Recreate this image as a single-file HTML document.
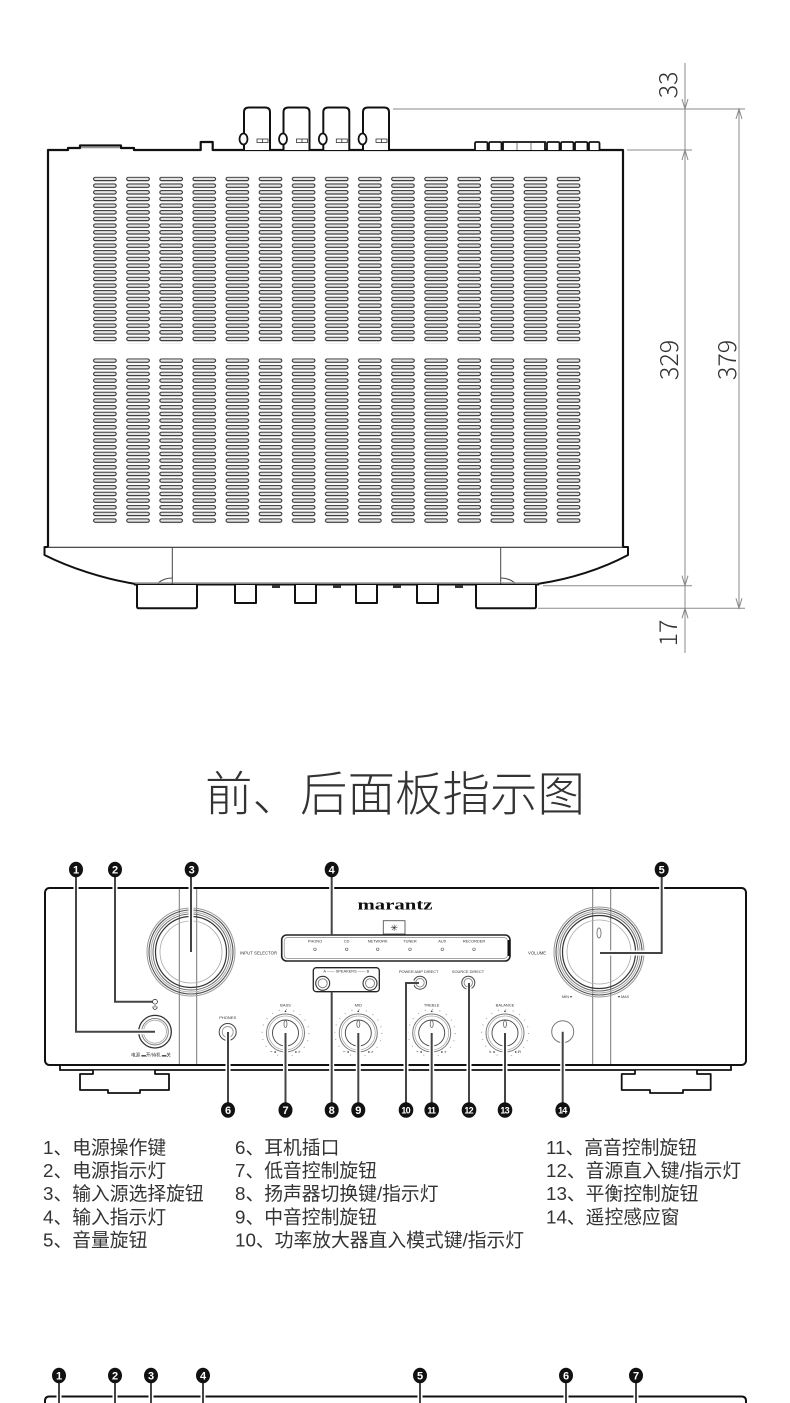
<!DOCTYPE html>
<html><head><meta charset="utf-8">
<style>
html,body{margin:0;padding:0;background:#fff;}
svg{display:block;}
.t{font-family:"Liberation Sans",sans-serif;fill:#333;}
.cn{font-family:"Liberation Sans","Noto Sans CJK SC",sans-serif;fill:#333;}
</style></head><body>
<svg width="790" height="1403" viewBox="0 0 790 1403" xmlns="http://www.w3.org/2000/svg">
<defs>
<pattern id="v1" x="93" y="176.7" width="33.12" height="6.667" patternUnits="userSpaceOnUse">
<rect x="0.6" y="0.6" width="22.6" height="3.4" rx="1.7" fill="#e6e6e6" stroke="#222" stroke-width="1"/>
</pattern>
<pattern id="v2" x="93" y="358.3" width="33.12" height="6.667" patternUnits="userSpaceOnUse">
<rect x="0.6" y="0.6" width="22.6" height="3.4" rx="1.7" fill="#e6e6e6" stroke="#222" stroke-width="1"/>
</pattern>
</defs>

<!-- ============ TOP VIEW ============ -->
<g fill="none" stroke="#111" stroke-width="2.2" stroke-linejoin="round">
<path d="M48,547 L48,150 L68,150 L68,148 L80,148 L80,145.5 L121,145.5 L121,148 L134,148 L134,150 L200.7,150 L200.7,142 L212.7,142 L212.7,150 L623,150 L623,547"/>
</g>
<rect x="81" y="146.3" width="39" height="2" fill="#999"/>
<g fill="#fff" stroke="#111" stroke-width="1.8">
<path d="M475,150 V143.5 Q475,142 476.5,142 H486 Q487.5,142 487.5,143.5 V150"/>
<path d="M489,150 V143.5 Q489,142 490.5,142 H500 Q501.5,142 501.5,143.5 V150"/>
<path d="M503,150 V142 H545 V150"/>
<path d="M547,150 V143.5 Q547,142 548.5,142 H558 Q559.5,142 559.5,143.5 V150"/>
<path d="M561,150 V143.5 Q561,142 562.5,142 H572 Q573.5,142 573.5,143.5 V150"/>
<path d="M575,150 V143.5 Q575,142 576.5,142 H586 Q587.5,142 587.5,143.5 V150"/>
<path d="M589,150 V143.5 Q589,142 590.5,142 H598 Q599.5,142 599.5,143.5 V150"/>
</g>
<g stroke="#555" stroke-width="0.8"><line x1="517" y1="142.5" x2="517" y2="150"/><line x1="531" y1="142.5" x2="531" y2="150"/></g>
<g>
<g transform="translate(244,0)">
<path d="M0,150 V112 Q0,107.5 5,107.5 H21 Q26,107.5 26,112 V150" fill="#fff" stroke="#111" stroke-width="2"/>
<ellipse cx="-0.5" cy="139" rx="4" ry="5.5" fill="#fff" stroke="#111" stroke-width="1.8"/>
<rect x="13" y="139" width="11" height="3.5" fill="#fff" stroke="#333" stroke-width="0.8"/><line x1="18.5" y1="139" x2="18.5" y2="142.5" stroke="#333" stroke-width="0.8"/>
</g>
<g transform="translate(283.5,0)">
<path d="M0,150 V112 Q0,107.5 5,107.5 H21 Q26,107.5 26,112 V150" fill="#fff" stroke="#111" stroke-width="2"/>
<ellipse cx="-0.5" cy="139" rx="4" ry="5.5" fill="#fff" stroke="#111" stroke-width="1.8"/>
<rect x="13" y="139" width="11" height="3.5" fill="#fff" stroke="#333" stroke-width="0.8"/><line x1="18.5" y1="139" x2="18.5" y2="142.5" stroke="#333" stroke-width="0.8"/>
</g>
<g transform="translate(323.3,0)">
<path d="M0,150 V112 Q0,107.5 5,107.5 H21 Q26,107.5 26,112 V150" fill="#fff" stroke="#111" stroke-width="2"/>
<ellipse cx="-0.5" cy="139" rx="4" ry="5.5" fill="#fff" stroke="#111" stroke-width="1.8"/>
<rect x="13" y="139" width="11" height="3.5" fill="#fff" stroke="#333" stroke-width="0.8"/><line x1="18.5" y1="139" x2="18.5" y2="142.5" stroke="#333" stroke-width="0.8"/>
</g>
<g transform="translate(363,0)">
<path d="M0,150 V112 Q0,107.5 5,107.5 H21 Q26,107.5 26,112 V150" fill="#fff" stroke="#111" stroke-width="2"/>
<ellipse cx="-0.5" cy="139" rx="4" ry="5.5" fill="#fff" stroke="#111" stroke-width="1.8"/>
<rect x="13" y="139" width="11" height="3.5" fill="#fff" stroke="#333" stroke-width="0.8"/><line x1="18.5" y1="139" x2="18.5" y2="142.5" stroke="#333" stroke-width="0.8"/>
</g>
</g>
<rect x="93" y="176.7" width="488" height="166.7" fill="url(#v1)"/>
<rect x="93" y="358.3" width="488" height="166.7" fill="url(#v2)"/>
<line x1="44.5" y1="547.3" x2="628" y2="547.3" stroke="#333" stroke-width="1.2"/>
<g fill="none" stroke="#111" stroke-width="2" stroke-linejoin="round">
<path d="M48,547 H44.5 V555 C70,568 105,579 133,583.5 L137,585"/>
<path d="M623,547 H628 V555 C602,569 570,579 540,583.5 L536,585"/>
</g>
<g stroke="#444" stroke-width="1" fill="none">
<line x1="172.3" y1="547" x2="172.3" y2="584"/>
<line x1="500.7" y1="547" x2="500.7" y2="584"/>
<path d="M158,583 Q164,578 172,578"/>
<path d="M501,578 Q509,578 515,583"/>
</g>
<line x1="134" y1="584.5" x2="539" y2="584.5" stroke="#111" stroke-width="2"/>
<line x1="134" y1="582.6" x2="539" y2="582.6" stroke="#999" stroke-width="0.8"/>
<g fill="#fff" stroke="#111" stroke-width="2" stroke-linejoin="round">
<path d="M137,585 V606.5 Q137,608.3 139,608.3 H195 Q197,608.3 197,606.5 V585"/>
<path d="M476,585 V606.5 Q476,608.3 478,608.3 H534 Q536,608.3 536,606.5 V585"/>
<path d="M235,585 V603 H256 V585"/>
<path d="M295,585 V603 H316 V585"/>
<path d="M356,585 V603 H377 V585"/>
<path d="M417,585 V603 H438 V585"/>
</g>
<g fill="#333"><rect x="272" y="585" width="8" height="3"/><rect x="333" y="585" width="8" height="3"/><rect x="393" y="585" width="8" height="3"/><rect x="455" y="585" width="8" height="3"/></g>

<g stroke="#8a8a8a" stroke-width="1" fill="none">
<line x1="393" y1="109" x2="745" y2="109"/>
<line x1="627" y1="150" x2="692" y2="150"/>
<line x1="543" y1="585.7" x2="692" y2="585.7"/>
<line x1="538" y1="608.3" x2="745" y2="608.3"/>
<line x1="685" y1="63" x2="685" y2="653"/>
<line x1="739" y1="109" x2="739" y2="608.3"/>
<path d="M682,99 L685,109 L688,99"/>
<path d="M682,160 L685,150 L688,160"/>
<path d="M682,575.7 L685,585.7 L688,575.7"/>
<path d="M682,618.3 L685,608.3 L688,618.3"/>
<path d="M736,119 L739,109 L742,119"/>
<path d="M736,598.3 L739,608.3 L742,598.3"/>
</g>
<g font-family="'Noto Sans CJK SC','Liberation Sans',sans-serif" font-weight="300" font-size="25" fill="#333" text-anchor="middle">
<text transform="translate(677,85) rotate(-90)">33</text>
<text transform="translate(678,360) rotate(-90)">329</text>
<text transform="translate(736,360) rotate(-90)">379</text>
<text transform="translate(677,633) rotate(-90)">17</text>
</g>

<text x="395" y="811" text-anchor="middle" font-family="'Noto Sans CJK SC',sans-serif" font-weight="300" font-size="47.5" fill="#333">前、后面板指示图</text>

<!-- ============ FRONT PANEL ============ -->
<rect x="45" y="888" width="701" height="177" rx="4.5" fill="#fff" stroke="#111" stroke-width="2"/>
<path d="M60,1065 V1070 H731 V1065" fill="none" stroke="#111" stroke-width="1.8"/>
<g fill="#fff" stroke="#111" stroke-width="1.8" stroke-linejoin="round">
<path d="M93,1070.5 V1074 H80 V1090 H108 V1093 H140 V1090 H169 V1074 H155 V1070.5"/>
<path d="M635,1070.5 V1074 H621.7 V1090 H650 V1093 H683 V1090 H710.7 V1074 H697 V1070.5"/>
</g>
<g stroke="#777" stroke-width="1">
<line x1="179.3" y1="889" x2="179.3" y2="1064"/>
<line x1="196.7" y1="889" x2="196.7" y2="1064"/>
<line x1="592.7" y1="889" x2="592.7" y2="1064"/>
<line x1="610.7" y1="889" x2="610.7" y2="1064"/>
</g>

<g fill="none">
<circle cx="191" cy="952" r="44" stroke="#999" stroke-width="1"/>
<circle cx="191" cy="952" r="42" stroke="#555" stroke-width="1.1"/>
<circle cx="191" cy="952" r="40" stroke="#aaa" stroke-width="1"/>
<circle cx="191" cy="952" r="38" stroke="#666" stroke-width="1"/>
<circle cx="191" cy="952" r="35.5" stroke="#333" stroke-width="1.2"/>
<circle cx="191" cy="952" r="31" stroke="#aaa" stroke-width="0.8"/>
</g>
<text x="240" y="954.5" class="t" font-size="4.3">INPUT SELECTOR</text>

<g fill="none">
<circle cx="599" cy="952" r="45" stroke="#999" stroke-width="1"/>
<circle cx="599" cy="952" r="43" stroke="#555" stroke-width="1.1"/>
<circle cx="599" cy="952" r="41" stroke="#aaa" stroke-width="1"/>
<circle cx="599" cy="952" r="39" stroke="#666" stroke-width="1"/>
<circle cx="599" cy="952" r="36.5" stroke="#333" stroke-width="1.2"/>
<circle cx="599" cy="952" r="32" stroke="#aaa" stroke-width="0.8"/>
<ellipse cx="599" cy="933" rx="2" ry="5" stroke="#777" stroke-width="0.9"/>
</g>
<text x="528" y="954.5" class="t" font-size="4.3">VOLUME</text>
<text x="562" y="998" class="t" font-size="3.8">MIN ▾</text>
<text x="618" y="998" class="t" font-size="3.8">▾ MAX</text>

<text x="357.5" y="909.5" textLength="75" lengthAdjust="spacingAndGlyphs" font-family="'Liberation Serif',serif" font-weight="bold" font-size="15" fill="#111">marantz</text>
<rect x="383.3" y="920.7" width="21.7" height="13.3" fill="#fff" stroke="#555" stroke-width="0.9"/>
<text x="394.2" y="931" text-anchor="middle" font-size="9" fill="#222" font-family="'DejaVu Sans',sans-serif">✳</text>
<rect x="281.7" y="935" width="228.3" height="26" rx="5" fill="#fff" stroke="#222" stroke-width="1.6"/>
<rect x="284.2" y="937.5" width="223.3" height="21" rx="3.5" fill="none" stroke="#888" stroke-width="0.7"/>
<line x1="509" y1="940" x2="509" y2="956" stroke="#111" stroke-width="2.5"/>
<g class="t" font-size="3.9" text-anchor="middle">
<text x="315" y="942.5">PHONO</text>
<text x="346.7" y="942.5">CD</text>
<text x="377.7" y="942.5">NETWORK</text>
<text x="410" y="942.5">TUNER</text>
<text x="442.3" y="942.5">AUX</text>
<text x="474" y="942.5">RECORDER</text>
</g>
<g fill="#fff" stroke="#555" stroke-width="0.6">
<circle cx="315" cy="949.3" r="1.3"/><circle cx="346.7" cy="949.3" r="1.3"/><circle cx="377.7" cy="949.3" r="1.3"/>
<circle cx="410" cy="949.3" r="1.3"/><circle cx="442.3" cy="949.3" r="1.3"/><circle cx="474" cy="949.3" r="1.3"/>
</g>

<rect x="313.3" y="967.7" width="66" height="24" rx="3" fill="#fff" stroke="#222" stroke-width="1.3"/>
<text x="346.3" y="972.3" text-anchor="middle" class="t" font-size="3.9">A ―― SPEAKERS ―― B</text>
<g fill="none">
<circle cx="322.7" cy="983.3" r="7" stroke="#333" stroke-width="1.1"/><circle cx="322.7" cy="983.3" r="4.5" stroke="#777" stroke-width="0.9"/>
<circle cx="370" cy="983.3" r="7" stroke="#333" stroke-width="1.1"/><circle cx="370" cy="983.3" r="4.5" stroke="#777" stroke-width="0.9"/>
</g>
<text x="418.7" y="972.8" text-anchor="middle" class="t" font-size="3.9">POWER AMP DIRECT</text>
<text x="468" y="972.8" text-anchor="middle" class="t" font-size="3.9">SOURCE DIRECT</text>
<g fill="none">
<circle cx="420" cy="982.7" r="6.5" stroke="#444" stroke-width="1"/><circle cx="420" cy="982.7" r="4.2" stroke="#888" stroke-width="0.9"/>
<circle cx="468.3" cy="982.7" r="6.5" stroke="#444" stroke-width="1"/><circle cx="468.3" cy="982.7" r="4.2" stroke="#888" stroke-width="0.9"/>
</g>

<g fill="none">
<circle cx="155" cy="1031.7" r="16.3" stroke="#333" stroke-width="1.3"/>
<circle cx="155" cy="1031.7" r="13.3" stroke="#777" stroke-width="0.9"/>
<circle cx="155" cy="1031.7" r="11.5" stroke="#aaa" stroke-width="0.8"/>
<circle cx="155" cy="1001.7" r="2.4" stroke="#333" stroke-width="0.8"/>
<path d="M153.3,1006.3 A2,2 0 1 0 156.7,1006.3" stroke="#333" stroke-width="0.8"/>
<line x1="155" y1="1005" x2="155" y2="1007.5" stroke="#333" stroke-width="0.8"/>
</g>
<text x="151" y="1056.5" text-anchor="middle" class="cn" font-size="4.5">电源 ▬开/待机 ▬关</text>

<text x="227.7" y="1019" text-anchor="middle" class="t" font-size="4">PHONES</text>
<circle cx="227.7" cy="1032" r="8.5" fill="none" stroke="#444" stroke-width="1"/>
<circle cx="227.7" cy="1032" r="5.5" fill="none" stroke="#999" stroke-width="0.9"/>

<g fill="none">
<g transform="translate(285.5,1033)">
<circle r="23.5" stroke="#aaa" stroke-width="1.2" stroke-dasharray="1 6.4"/>
<circle r="19" stroke="#777" stroke-width="1"/><circle r="17" stroke="#aaa" stroke-width="0.8"/><circle r="13" stroke="#444" stroke-width="0.9"/>
<ellipse cx="0" cy="-9" rx="1.5" ry="3.5" stroke="#666" stroke-width="0.8"/>
</g>
<g transform="translate(358.3,1033)">
<circle r="23.5" stroke="#aaa" stroke-width="1.2" stroke-dasharray="1 6.4"/>
<circle r="19" stroke="#777" stroke-width="1"/><circle r="17" stroke="#aaa" stroke-width="0.8"/><circle r="13" stroke="#444" stroke-width="0.9"/>
<ellipse cx="0" cy="-9" rx="1.5" ry="3.5" stroke="#666" stroke-width="0.8"/>
</g>
<g transform="translate(431.7,1033)">
<circle r="23.5" stroke="#aaa" stroke-width="1.2" stroke-dasharray="1 6.4"/>
<circle r="19" stroke="#777" stroke-width="1"/><circle r="17" stroke="#aaa" stroke-width="0.8"/><circle r="13" stroke="#444" stroke-width="0.9"/>
<ellipse cx="0" cy="-9" rx="1.5" ry="3.5" stroke="#666" stroke-width="0.8"/>
</g>
<g transform="translate(505,1033)">
<circle r="23.5" stroke="#aaa" stroke-width="1.2" stroke-dasharray="1 6.4"/>
<circle r="19" stroke="#777" stroke-width="1"/><circle r="17" stroke="#aaa" stroke-width="0.8"/><circle r="13" stroke="#444" stroke-width="0.9"/>
<ellipse cx="0" cy="-9" rx="1.5" ry="3.5" stroke="#666" stroke-width="0.8"/>
</g>
</g>
<g class="t" font-size="4" text-anchor="middle">
<text x="285.5" y="1006.5">BASS</text><text x="285.5" y="1012">▴</text><text x="273" y="1053">− ◂</text><text x="298" y="1053">▸ +</text>
<text x="358.3" y="1006.5">MID</text><text x="358.3" y="1012">▴</text><text x="346" y="1053">− ◂</text><text x="371" y="1053">▸ +</text>
<text x="431.7" y="1006.5">TREBLE</text><text x="431.7" y="1012">▴</text><text x="419" y="1053">− ◂</text><text x="444" y="1053">▸ +</text>
<text x="505" y="1006.5">BALANCE</text><text x="505" y="1012">▴</text><text x="492" y="1053">L ◂</text><text x="518" y="1053">▸ R</text>
</g>

<circle cx="562.7" cy="1031.7" r="11" fill="none" stroke="#777" stroke-width="1"/>

<g fill="none" stroke="#fff" stroke-width="5" stroke-linejoin="miter">
<path d="M76,876 V1031.7 H150"/>
<path d="M115,876 V1001.7 H150"/>
<path d="M191,876 V950"/>
<path d="M331.7,876 V933"/>
<path d="M661.7,876 V953 H603"/>
<path d="M228,1103 V1036"/>
<path d="M285.5,1103 V1036"/>
<path d="M331.7,1103 V994"/>
<path d="M358.3,1103 V1036"/>
<path d="M406,1103 V983 H414"/>
<path d="M431.7,1103 V1036"/>
<path d="M469,1103 V987"/>
<path d="M505,1103 V1036"/>
<path d="M562.7,1103 V1036"/>
</g>
<g fill="none" stroke="#444" stroke-width="2" stroke-linejoin="miter">
<path d="M76,876 V1031.7 H155"/>
<path d="M115,876 V1001.7 H152.5"/>
<path d="M191,876 V952"/>
<path d="M331.7,876 V935"/>
<path d="M661.7,876 V953 H600"/>
<path d="M228,1103 V1032"/>
<path d="M285.5,1103 V1033"/>
<path d="M331.7,1103 V991.7"/>
<path d="M358.3,1103 V1033"/>
<path d="M406,1103 V983 H419"/>
<path d="M431.7,1103 V1033"/>
<path d="M469,1103 V983"/>
<path d="M505,1103 V1033"/>
<path d="M562.7,1103 V1031.7"/>
</g>

<g fill="#111">
<ellipse cx="76" cy="869.5" rx="7" ry="7.8"/>
<ellipse cx="115" cy="869.5" rx="7" ry="7.8"/>
<ellipse cx="191.7" cy="869.5" rx="7" ry="7.8"/>
<ellipse cx="331.7" cy="869.5" rx="7" ry="7.8"/>
<ellipse cx="661.7" cy="869.5" rx="7" ry="7.8"/>
<ellipse cx="228" cy="1110" rx="7" ry="7.8"/>
<ellipse cx="285.5" cy="1110" rx="7" ry="7.8"/>
<ellipse cx="331.7" cy="1110" rx="7" ry="7.8"/>
<ellipse cx="358.3" cy="1110" rx="7" ry="7.8"/>
<ellipse cx="406" cy="1110" rx="7.3" ry="7.8"/>
<ellipse cx="431.7" cy="1110" rx="7.3" ry="7.8"/>
<ellipse cx="469" cy="1110" rx="7.3" ry="7.8"/>
<ellipse cx="505" cy="1110" rx="7.3" ry="7.8"/>
<ellipse cx="562.7" cy="1110" rx="7.3" ry="7.8"/>
</g>
<g font-family="'Liberation Sans',sans-serif" font-weight="bold" fill="#fff" text-anchor="middle" font-size="11">
<text x="76" y="873.5">1</text>
<text x="115" y="873.5">2</text>
<text x="191.7" y="873.5">3</text>
<text x="331.7" y="873.5">4</text>
<text x="661.7" y="873.5">5</text>
<text x="228" y="1114">6</text>
<text x="285.5" y="1114">7</text>
<text x="331.7" y="1114">8</text>
<text x="358.3" y="1114">9</text>
</g>
<g font-family="'Liberation Sans',sans-serif" font-weight="bold" fill="#fff" text-anchor="middle" font-size="9" letter-spacing="-0.8">
<text x="405.6" y="1113.3">10</text>
<text x="431.3" y="1113.3">11</text>
<text x="468.6" y="1113.3">12</text>
<text x="504.6" y="1113.3">13</text>
<text x="562.3" y="1113.3">14</text>
</g>

<g class="cn" font-size="18.8" fill="#333">
<text x="43" y="1154">1、电源操作键</text>
<text x="43" y="1177.1">2、电源指示灯</text>
<text x="43" y="1200.2">3、输入源选择旋钮</text>
<text x="43" y="1223.3">4、输入指示灯</text>
<text x="43" y="1246.4">5、音量旋钮</text>
<text x="235" y="1154">6、耳机插口</text>
<text x="235" y="1177.1">7、低音控制旋钮</text>
<text x="235" y="1200.2">8、扬声器切换键/指示灯</text>
<text x="235" y="1223.3">9、中音控制旋钮</text>
<text x="235" y="1246.4">10、功率放大器直入模式键/指示灯</text>
<text x="546" y="1154">11、高音控制旋钮</text>
<text x="546" y="1177.1">12、音源直入键/指示灯</text>
<text x="546" y="1200.2">13、平衡控制旋钮</text>
<text x="546" y="1223.3">14、遥控感应窗</text>
</g>

<path d="M45,1403 V1401 Q45,1396.5 49.5,1396.5 H741.5 Q746,1396.5 746,1401 V1403" fill="none" stroke="#111" stroke-width="2"/>
<g fill="none" stroke="#fff" stroke-width="5">
<path d="M59,1382 V1403"/><path d="M115,1382 V1403"/><path d="M151,1382 V1403"/><path d="M203,1382 V1403"/>
<path d="M420,1382 V1403"/><path d="M566,1382 V1403"/><path d="M636,1382 V1403"/>
</g>
<g fill="none" stroke="#444" stroke-width="2">
<path d="M59,1382 V1403"/><path d="M115,1382 V1403"/><path d="M151,1382 V1403"/><path d="M203,1382 V1403"/>
<path d="M420,1382 V1403"/><path d="M566,1382 V1403"/><path d="M636,1382 V1403"/>
</g>
<g fill="#111">
<ellipse cx="59" cy="1375.5" rx="7" ry="7.8"/>
<ellipse cx="115" cy="1375.5" rx="7" ry="7.8"/>
<ellipse cx="151" cy="1375.5" rx="7" ry="7.8"/>
<ellipse cx="203" cy="1375.5" rx="7" ry="7.8"/>
<ellipse cx="420" cy="1375.5" rx="7" ry="7.8"/>
<ellipse cx="566" cy="1375.5" rx="7" ry="7.8"/>
<ellipse cx="636" cy="1375.5" rx="7" ry="7.8"/>
</g>
<g font-family="'Liberation Sans',sans-serif" font-weight="bold" fill="#fff" text-anchor="middle" font-size="11">
<text x="59" y="1379.5">1</text>
<text x="115" y="1379.5">2</text>
<text x="151" y="1379.5">3</text>
<text x="203" y="1379.5">4</text>
<text x="420" y="1379.5">5</text>
<text x="566" y="1379.5">6</text>
<text x="636" y="1379.5">7</text>
</g>
</svg>
</body></html>
